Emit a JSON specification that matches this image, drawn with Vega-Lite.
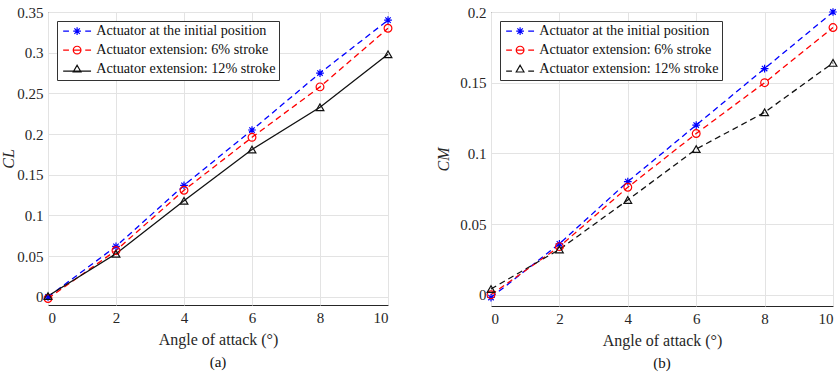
{
  "$schema": "https://vega.github.io/schema/vega-lite/v6.json",
  "padding": {"left": 0, "top": 4, "right": 2, "bottom": 2},
  "config": {
    "font": "Times New Roman",
    "view": {"stroke": "#262626", "strokeWidth": 1},
    "axis": {
      "grid": true, "gridColor": "#e3e3e3", "domain": false, "tickSize": 0,
      "labelFont": "Times New Roman", "titleFont": "Times New Roman",
      "labelFontSize": 15, "labelColor": "#262626", "labelPadding": 5,
      "titleFontSize": 16, "titleFontWeight": "normal", "titleColor": "#262626"
    },
    "legend": {
      "orient": "top-left", "offset": 9, "padding": 3, "strokeColor": "#333", "fillColor": "white",
      "labelFont": "Times New Roman", "labelFontSize": 14.2, "labelColor": "#111", "labelLimit": 0, "symbolSize": 60, "rowPadding": 4, "title": null,
      "symbolStrokeWidth": 1.2, "symbolOpacity": 1, "symbolOffset": 10, "labelOffset": 12, "symbolFillColor": "transparent"
    },
    "title": {"font": "Times New Roman", "fontSize": 15, "fontWeight": "normal", "color": "#111"}
  },
  "datasets": {
    "a": [
      {"aoa": 0, "series": "Actuator at the initial position", "v": 0.0},
      {"aoa": 2, "series": "Actuator at the initial position", "v": 0.062},
      {"aoa": 4, "series": "Actuator at the initial position", "v": 0.137},
      {"aoa": 6, "series": "Actuator at the initial position", "v": 0.205},
      {"aoa": 8, "series": "Actuator at the initial position", "v": 0.275},
      {"aoa": 10, "series": "Actuator at the initial position", "v": 0.340},
      {"aoa": 0, "series": "Actuator extension: 6% stroke", "v": -0.002},
      {"aoa": 2, "series": "Actuator extension: 6% stroke", "v": 0.057},
      {"aoa": 4, "series": "Actuator extension: 6% stroke", "v": 0.131},
      {"aoa": 6, "series": "Actuator extension: 6% stroke", "v": 0.196},
      {"aoa": 8, "series": "Actuator extension: 6% stroke", "v": 0.258},
      {"aoa": 10, "series": "Actuator extension: 6% stroke", "v": 0.330},
      {"aoa": 0, "series": "Actuator extension: 12% stroke", "v": 0.001},
      {"aoa": 2, "series": "Actuator extension: 12% stroke", "v": 0.053},
      {"aoa": 4, "series": "Actuator extension: 12% stroke", "v": 0.118},
      {"aoa": 6, "series": "Actuator extension: 12% stroke", "v": 0.181},
      {"aoa": 8, "series": "Actuator extension: 12% stroke", "v": 0.233},
      {"aoa": 10, "series": "Actuator extension: 12% stroke", "v": 0.298}
    ],
    "b": [
      {"aoa": 0, "series": "Actuator at the initial position", "v": -0.002},
      {"aoa": 2, "series": "Actuator at the initial position", "v": 0.036},
      {"aoa": 4, "series": "Actuator at the initial position", "v": 0.080},
      {"aoa": 6, "series": "Actuator at the initial position", "v": 0.120},
      {"aoa": 8, "series": "Actuator at the initial position", "v": 0.160},
      {"aoa": 10, "series": "Actuator at the initial position", "v": 0.200},
      {"aoa": 0, "series": "Actuator extension: 6% stroke", "v": 0.0},
      {"aoa": 2, "series": "Actuator extension: 6% stroke", "v": 0.034},
      {"aoa": 4, "series": "Actuator extension: 6% stroke", "v": 0.076},
      {"aoa": 6, "series": "Actuator extension: 6% stroke", "v": 0.114},
      {"aoa": 8, "series": "Actuator extension: 6% stroke", "v": 0.150},
      {"aoa": 10, "series": "Actuator extension: 6% stroke", "v": 0.189},
      {"aoa": 0, "series": "Actuator extension: 12% stroke", "v": 0.004},
      {"aoa": 2, "series": "Actuator extension: 12% stroke", "v": 0.032},
      {"aoa": 4, "series": "Actuator extension: 12% stroke", "v": 0.067},
      {"aoa": 6, "series": "Actuator extension: 12% stroke", "v": 0.103},
      {"aoa": 8, "series": "Actuator extension: 12% stroke", "v": 0.129},
      {"aoa": 10, "series": "Actuator extension: 12% stroke", "v": 0.164}
    ]
  },
  "spacing": 40,
  "hconcat": [
    {
      "width": 340, "height": 293,
      "data": {"name": "a"},
      "title": {"text": "(a)", "orient": "bottom", "offset": 8},
      "encoding": {
        "x": {"field": "aoa", "type": "quantitative", "scale": {"domain": [0, 10], "nice": false},
              "axis": {"values": [0, 2, 4, 6, 8, 10], "title": "Angle of attack (°)", "titlePadding": 6}},
        "y": {"field": "v", "type": "quantitative", "scale": {"domain": [-0.01, 0.35], "nice": false, "zero": false},
              "axis": {"values": [0, 0.05, 0.1, 0.15, 0.2, 0.25, 0.3, 0.35], "format": "~g", "title": "CL", "titleFontStyle": "italic", "titlePadding": 0}},
        "color": {"field": "series", "type": "nominal",
                  "scale": {"domain": ["Actuator at the initial position", "Actuator extension: 6% stroke", "Actuator extension: 12% stroke"], "range": ["#0000ff", "#ff0000", "#111111"]}}
      },
      "layer": [
        {
          "transform": [{"filter": "datum.series !== 'Actuator extension: 12% stroke'"}],
          "mark": {"type": "line", "strokeWidth": 1.3, "strokeDash": [6, 4]}
        },
        {
          "transform": [{"filter": "datum.series === 'Actuator extension: 12% stroke'"}],
          "mark": {"type": "line", "strokeWidth": 1.3}
        },
        {
          "transform": [{"filter": "datum.series === 'Actuator at the initial position'"}],
          "mark": {"type": "point", "filled": false, "size": 60, "strokeWidth": 1.2, "opacity": 1, "shape": "M-1,0L1,0M0,-1L0,1M-0.7,-0.7L0.7,0.7M-0.7,0.7L0.7,-0.7"}
        },
        {
          "transform": [{"filter": "datum.series === 'Actuator extension: 6% stroke'"}],
          "mark": {"type": "point", "filled": false, "size": 60, "strokeWidth": 1.2, "opacity": 1, "shape": "circle"}
        },
        {
          "transform": [{"filter": "datum.series === 'Actuator extension: 12% stroke'"}],
          "mark": {"type": "point", "filled": false, "size": 60, "strokeWidth": 1.2, "opacity": 1, "shape": "triangle-up"}
        },
        {
          "transform": [{"filter": "datum.aoa === 0"}],
          "mark": {"type": "point", "filled": false, "size": 60, "strokeWidth": 1.2, "opacity": 0},
          "encoding": {
            "shape": {"field": "series", "type": "nominal",
                      "scale": {"domain": ["Actuator at the initial position", "Actuator extension: 6% stroke", "Actuator extension: 12% stroke"],
                                "range": [
                                  "M-3.6,0L-2.1,0M2.1,0L3.6,0M-1,0L1,0M0,-1L0,1M-0.7,-0.7L0.7,0.7M-0.7,0.7L0.7,-0.7",
                                  "M-3.6,0L-2.1,0M2.1,0L3.6,0M-1,0L1,0M1,0A1,1 0 1,1 -1,0A1,1 0 1,1 1,0",
                                  "M-3.6,0.5L3.6,0.5M0,-1L1,0.75L-1,0.75Z"
                                ]}}
          }
        }
      ]
    },
    {
      "width": 342, "height": 294,
      "data": {"name": "b"},
      "title": {"text": "(b)", "orient": "bottom", "offset": 8},
      "encoding": {
        "x": {"field": "aoa", "type": "quantitative", "scale": {"domain": [0, 10], "nice": false},
              "axis": {"values": [0, 2, 4, 6, 8, 10], "title": "Angle of  attack (°)", "titlePadding": 6}},
        "y": {"field": "v", "type": "quantitative", "scale": {"domain": [-0.008, 0.2], "nice": false, "zero": false},
              "axis": {"values": [0, 0.05, 0.1, 0.15, 0.2], "format": "~g", "title": "CM", "titleFontStyle": "italic", "titlePadding": 8}},
        "color": {"field": "series", "type": "nominal",
                  "scale": {"domain": ["Actuator at the initial position", "Actuator extension: 6% stroke", "Actuator extension: 12% stroke"], "range": ["#0000ff", "#ff0000", "#111111"]}}
      },
      "layer": [
        {
          "mark": {"type": "line", "strokeWidth": 1.3, "strokeDash": [6, 4]}
        },
        {
          "transform": [{"filter": "datum.series === 'Actuator at the initial position'"}],
          "mark": {"type": "point", "filled": false, "size": 60, "strokeWidth": 1.2, "opacity": 1, "shape": "M-1,0L1,0M0,-1L0,1M-0.7,-0.7L0.7,0.7M-0.7,0.7L0.7,-0.7"}
        },
        {
          "transform": [{"filter": "datum.series === 'Actuator extension: 6% stroke'"}],
          "mark": {"type": "point", "filled": false, "size": 60, "strokeWidth": 1.2, "opacity": 1, "shape": "circle"}
        },
        {
          "transform": [{"filter": "datum.series === 'Actuator extension: 12% stroke'"}],
          "mark": {"type": "point", "filled": false, "size": 60, "strokeWidth": 1.2, "opacity": 1, "shape": "triangle-up"}
        },
        {
          "transform": [{"filter": "datum.aoa === 0"}],
          "mark": {"type": "point", "filled": false, "size": 60, "strokeWidth": 1.2, "opacity": 0},
          "encoding": {
            "shape": {"field": "series", "type": "nominal",
                      "scale": {"domain": ["Actuator at the initial position", "Actuator extension: 6% stroke", "Actuator extension: 12% stroke"],
                                "range": [
                                  "M-3.6,0L-2.1,0M2.1,0L3.6,0M-1,0L1,0M0,-1L0,1M-0.7,-0.7L0.7,0.7M-0.7,0.7L0.7,-0.7",
                                  "M-3.6,0L-2.1,0M2.1,0L3.6,0M-1,0L1,0M1,0A1,1 0 1,1 -1,0A1,1 0 1,1 1,0",
                                  "M-3.6,0.5L-2.1,0.5M2.1,0.5L3.6,0.5M0,-1L1,0.75L-1,0.75Z"
                                ]}}
          }
        }
      ]
    }
  ],
  "resolve": {"scale": {"color": "independent", "shape": "independent"}, "legend": {"color": "independent", "shape": "independent"}}
}
